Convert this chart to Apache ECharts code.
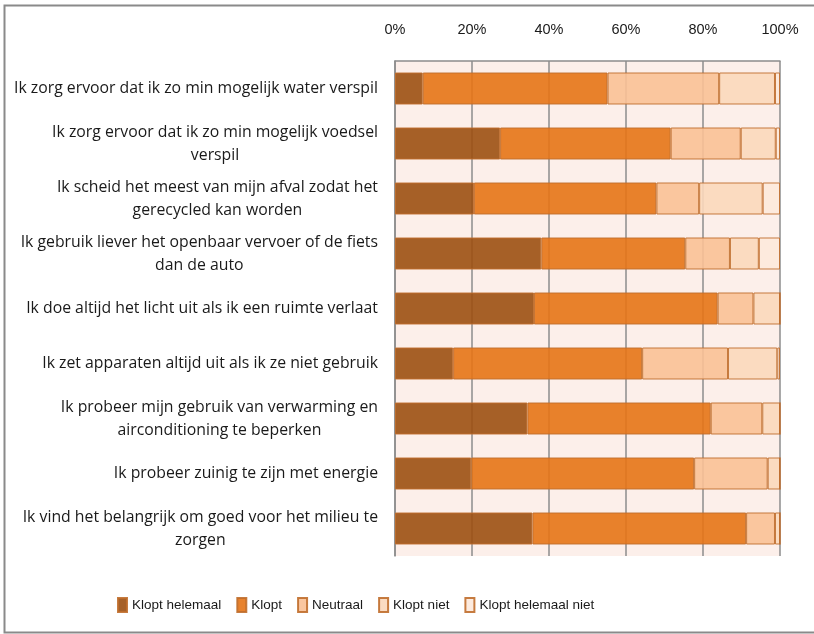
<!DOCTYPE html>
<html>
<head>
  <meta charset="UTF-8" />
  <title>Duurzaam gedrag</title>
  <script src="https://cdn.jsdelivr.net/npm/echarts@6/dist/echarts.min.js"></script>
  <style>
    body { margin: 0; background: #fff; }
    #main { width: 814px; height: 634px; }
  </style>
</head>
<body>
  <div id="main"></div>
  <script>
    const statements = [
      'Ik zorg ervoor dat ik zo min mogelijk water verspil',
      'Ik zorg ervoor dat ik zo min mogelijk voedsel\nverspil',
      'Ik scheid het meest van mijn afval zodat het\ngerecycled kan worden',
      'Ik gebruik liever het openbaar vervoer of de fiets\ndan de auto',
      'Ik doe altijd het licht uit als ik een ruimte verlaat',
      'Ik zet apparaten altijd uit als ik ze niet gebruik',
      'Ik probeer mijn gebruik van verwarming en\nairconditioning te beperken',
      'Ik probeer zuinig te zijn met energie',
      'Ik vind het belangrijk om goed voor het milieu te\nzorgen'
    ];
    const kloptHelemaal     = [7.2, 27.3, 20.5, 38.0, 36.1, 15.1, 34.4, 19.8, 35.7];
    const klopt             = [48.0, 44.3, 47.4, 37.4, 47.7, 49.1, 47.6, 57.9, 55.5];
    const neutraal          = [29.0, 18.2, 11.1, 11.6, 9.3, 22.3, 13.4, 19.1, 7.5];
    const kloptNiet         = [14.5, 9.1, 16.5, 7.5, 6.9, 12.8, 4.6, 3.2, 1.3];
    const kloptHelemaalNiet = [1.3, 1.1, 4.5, 5.5, 0, 0.7, 0, 0, 0];

    const font = "'Liberation Sans', sans-serif";
    const labelFont = "'Open Sans', sans-serif";
    const chart = echarts.init(document.getElementById('main'));

    function bar(name, data, color) {
      return {
        name: name,
        type: 'bar',
        stack: 'totaal',
        barWidth: 32,
        data: data,
        itemStyle: { color: color, borderColor: '#c06e2c', borderWidth: 1, opacity: 0.9 },
        emphasis: { disabled: true }
      };
    }

    chart.setOption({
      animation: false,
      textStyle: { fontFamily: font },
      graphic: [{
        type: 'rect',
        shape: { x: 4.5, y: 5.5, width: 830, height: 627 },
        style: { fill: 'none', stroke: '#8a8a8a', lineWidth: 2 },
        silent: true
      }],
      grid: {
        left: 395, right: 34, top: 61, bottom: 78,
        show: true, backgroundColor: '#fcefea', borderWidth: 0
      },
      legend: {
        left: 112, top: 592,
        icon: 'rect', itemWidth: 9, itemHeight: 14, itemGap: 15,
        textStyle: { fontSize: 13.5, color: '#1a1a1a', fontFamily: font },
        selectedMode: false
      },
      xAxis: {
        type: 'value', position: 'top', min: 0, max: 100, interval: 20,
        axisLine: { show: true, lineStyle: { color: '#8c8c8c', width: 1.5 } },
        axisTick: { show: false },
        axisLabel: { formatter: '{value}%', fontSize: 14.5, color: '#1a1a1a', margin: 24, fontFamily: font },
        splitLine: { show: true, lineStyle: { color: '#8c8c8c', width: 1.5 } }
      },
      yAxis: {
        type: 'category', inverse: true, data: statements,
        axisLine: { show: true, lineStyle: { color: '#8c8c8c', width: 1.5 } },
        axisTick: { show: false },
        axisLabel: {
          margin: 17, align: 'right',
          formatter: v => v.split('\n').map(l => '{c|' + l + '}').join('\n'),
          rich: { c: { align: 'center', fontSize: 15.8, lineHeight: 23, color: '#1a1a1a', fontFamily: labelFont } }
        }
      },
      series: [
        bar('Klopt helemaal', kloptHelemaal, '#9c5012'),
        bar('Klopt', klopt, '#e67416'),
        bar('Neutraal', neutraal, '#f9c196'),
        bar('Klopt niet', kloptNiet, '#fbd8bb'),
        bar('Klopt helemaal niet', kloptHelemaalNiet, '#fde9dc')
      ]
    });
  </script>
</body>
</html>
